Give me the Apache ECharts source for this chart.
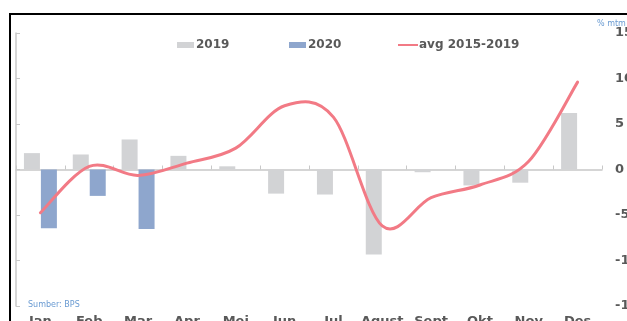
<!DOCTYPE html>
<html>
<head>
<meta charset="utf-8">
<script src="https://cdn.jsdelivr.net/npm/echarts@6/dist/echarts.min.js"></script>
<style>html,body{margin:0;padding:0;background:#fff;}#c{width:627px;height:321px;}</style>
</head>
<body>
<div id="c"></div>
<script>
var categories = ['Jan','Feb','Mar','Apr','Mei','Jun','Jul','Agust','Sept','Okt','Nov','Des'];
var s2019 = [1.8, 1.65, 3.3, 1.5, 0.35, -2.65, -2.75, -9.35, -0.3, -1.75, -1.45, 6.2];
var s2020 = [-6.45, -2.9, -6.55, null, null, null, null, null, null, null, null, null];
var avg = [-4.75, 0.35, -0.65, 0.7, 2.35, 7.0, 5.75, -6.2, -3.1, -1.7, 0.9, 9.6];
var yTicks = {min: -15, max: 15, interval: 5};

var chart = echarts.init(document.getElementById('c'));
var FONT = 'DejaVu Sans';
var TXT = '#595959';
var LINEC = '#f27a85';

// Excel-like smoothed line (Catmull-Rom through every data point), via the axis scales
function renderAvg(params, api) {
  if (params.dataIndex !== 0) return null;
  var pts = [];
  for (var i = 0; i < avg.length; i++) pts.push(api.coord([i, avg[i]]));
  var d = 'M' + pts[0][0] + ',' + pts[0][1];
  for (var k = 0; k < pts.length - 1; k++) {
    var p0 = pts[Math.max(k - 1, 0)], p1 = pts[k], p2 = pts[k + 1], p3 = pts[Math.min(k + 2, pts.length - 1)];
    var c1x = p1[0] + (p2[0] - p0[0]) / 6, c1y = p1[1] + (p2[1] - p0[1]) / 6;
    var c2x = p2[0] - (p3[0] - p1[0]) / 6, c2y = p2[1] - (p3[1] - p1[1]) / 6;
    d += ' C' + c1x + ',' + c1y + ' ' + c2x + ',' + c2y + ' ' + p2[0] + ',' + p2[1];
  }
  return {
    type: 'path',
    shape: {pathData: d},
    style: {stroke: LINEC, lineWidth: 3, fill: null, lineCap: 'round', lineJoin: 'round'},
    silent: true
  };
}

var legendText = {color: TXT, fontWeight: 'bold', fontSize: 12, fontFamily: FONT, padding: [0,0,0,-3]};
chart.setOption({
  animation: false,
  textStyle: {fontFamily: FONT},
  grid: {left: 16, right: 25, top: 33, bottom: 15, containLabel: false, outerBoundsMode: 'none'},
  legend: [{
    left: 177, top: 39, padding: 0, itemWidth: 17, itemHeight: 6, textStyle: legendText,
    data: [{name: '2019', icon: 'rect'}]
  }, {
    left: 289, top: 39, padding: 0, itemWidth: 17, itemHeight: 6, textStyle: legendText,
    data: [{name: '2020', icon: 'rect'}]
  }, {
    left: 398, top: 39, padding: 0, itemWidth: 20, itemHeight: 6,
    textStyle: {color: TXT, fontWeight: 'bold', fontSize: 12, fontFamily: FONT, padding: [0,0,0,-4]},
    data: [{name: 'avg 2015-2019', icon: 'path://M0,0 L0,0 Z M0,2.1 L20,2.1 L20,4.1 L0,4.1 Z M20,6 L20,6 Z', itemStyle: {color: LINEC}}]
  }],
  xAxis: [{
    type: 'category', data: categories,
    axisLine: {onZero: true, lineStyle: {color: '#c8c8c8', width: 1.5}},
    axisTick: {show: true, inside: true, length: 4, lineStyle: {color: '#c8c8c8'}},
    axisLabel: {show: false}
  }, {
    type: 'category', data: categories, position: 'bottom',
    axisLine: {show: false}, axisTick: {show: false},
    axisLabel: {show: true, color: TXT, fontWeight: 'bold', fontSize: 13, margin: 9, fontFamily: FONT, interval: 0}
  }],
  yAxis: [{
    type: 'value', position: 'left', min: yTicks.min, max: yTicks.max, interval: yTicks.interval,
    axisLine: {show: true, lineStyle: {color: '#c8c8c8', width: 1.5}},
    axisTick: {show: true, inside: true, length: 4, lineStyle: {color: '#c8c8c8'}},
    axisLabel: {show: false}, splitLine: {show: false}
  }, {
    type: 'value', position: 'right', min: yTicks.min, max: yTicks.max, interval: yTicks.interval,
    axisLine: {show: false}, axisTick: {show: false}, splitLine: {show: false},
    axisLabel: {show: true, color: TXT, fontWeight: 'bold', fontSize: 13, margin: 13, fontFamily: FONT}
  }],
  series: [{
    name: '2019', type: 'bar', data: s2019, barWidth: 16, barGap: '6%',
    itemStyle: {color: '#d2d3d5'}
  }, {
    name: '2020', type: 'bar', data: s2020, barWidth: 16,
    itemStyle: {color: '#8ea6cd'}
  }, {
    name: 'avg 2015-2019', type: 'custom', renderItem: renderAvg,
    data: avg.map(function (v, i) { return [i, v]; }),
    itemStyle: {color: LINEC}, z: 5
  }],
  graphic: [
    {type: 'line', shape: {x1: 9, y1: 14, x2: 627, y2: 14}, style: {stroke: '#000', lineWidth: 2}},
    {type: 'line', shape: {x1: 10, y1: 13, x2: 10, y2: 321}, style: {stroke: '#000', lineWidth: 2}},
    {type: 'text', left: 597, top: 20, style: {text: '% mtm', fontSize: 8, fill: '#6a9bd2', fontFamily: FONT}},
    {type: 'text', left: 28, top: 301, style: {text: 'Sumber: BPS', fontSize: 8, fill: '#6a9bd2', fontFamily: FONT}}
  ]
});
</script>
</body>
</html>
